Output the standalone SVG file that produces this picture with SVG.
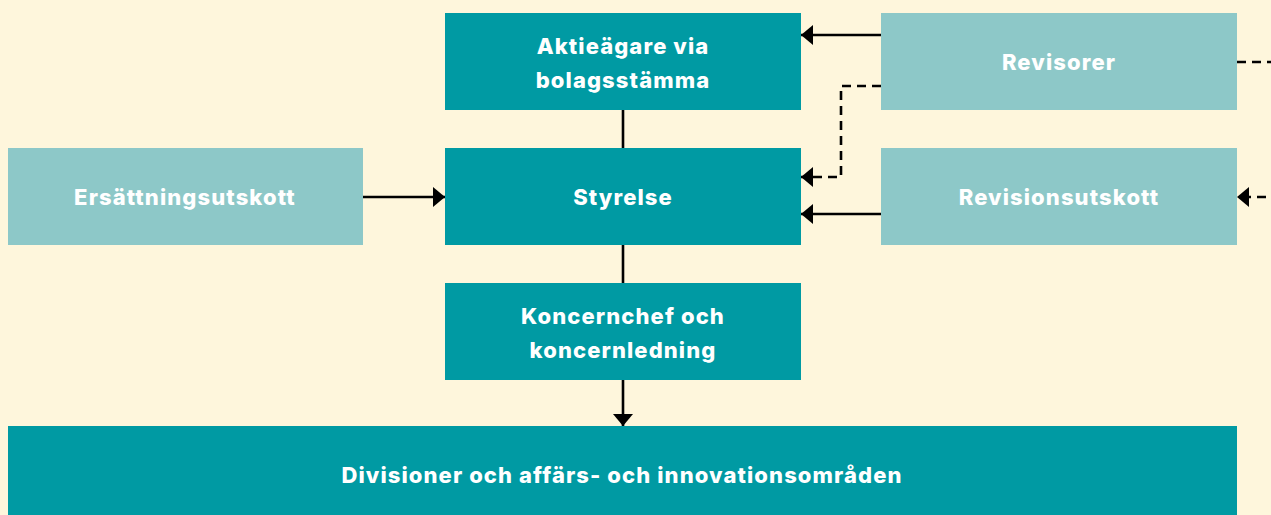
<svg xmlns="http://www.w3.org/2000/svg" width="1271" height="515" viewBox="0 0 1271 515">
<defs>
<style>
.dark{fill:#009aa3}
.light{fill:#8dc8c8}
.t{fill:#ffffff;font-family:Inter,"Open Sans",sans-serif;font-weight:800;font-size:22px;letter-spacing:1.1px;text-anchor:middle}
.c{stroke:#000;stroke-width:2.6;fill:none}
.d{stroke-dasharray:9,6}
</style>
<marker id="ah" viewBox="0 0 12 20" refX="12" refY="10" markerWidth="12" markerHeight="20" markerUnits="userSpaceOnUse" orient="auto">
<path d="M0,0 L12,10 L0,20 Z" fill="#000"/>
</marker>
</defs>
<rect width="1271" height="515" fill="#fef6dc"/>
<g id="connectors">
<line class="c" x1="623" y1="110" x2="623" y2="148"/>
<line class="c" x1="623" y1="245" x2="623" y2="283"/>
<line class="c" x1="623" y1="380" x2="623" y2="426" marker-end="url(#ah)"/>
<line class="c" x1="363" y1="197" x2="445" y2="197" marker-end="url(#ah)"/>
<line class="c" x1="881" y1="35" x2="801" y2="35" marker-end="url(#ah)"/>
<line class="c" x1="881" y1="214" x2="801" y2="214" marker-end="url(#ah)"/>
<polyline class="c d" points="881,86 841,86 841,177 801,177" marker-end="url(#ah)"/>
<line class="c d" x1="1237" y1="62" x2="1275" y2="62"/>
<line class="c d" x1="1281" y1="197" x2="1237" y2="197" marker-end="url(#ah)"/>
</g>
<g id="aktieagare">
<rect class="dark" x="445" y="13" width="356" height="97"/>
<text class="t" x="623" y="54">Aktieägare via</text>
<text class="t" x="623" y="88">bolagsstämma</text>
</g>
<g id="styrelse">
<rect class="dark" x="445" y="148" width="356" height="97"/>
<text class="t" x="623" y="205">Styrelse</text>
</g>
<g id="koncernchef">
<rect class="dark" x="445" y="283" width="356" height="97"/>
<text class="t" x="623" y="324">Koncernchef och</text>
<text class="t" x="623" y="358">koncernledning</text>
</g>
<g id="divisioner">
<rect class="dark" x="8" y="426" width="1229" height="95"/>
<text class="t" x="622" y="483">Divisioner och affärs- och innovationsområden</text>
</g>
<g id="ersattningsutskott">
<rect class="light" x="8" y="148" width="355" height="97"/>
<text class="t" x="185" y="205">Ersättningsutskott</text>
</g>
<g id="revisorer">
<rect class="light" x="881" y="13" width="356" height="97"/>
<text class="t" x="1059" y="70">Revisorer</text>
</g>
<g id="revisionsutskott">
<rect class="light" x="881" y="148" width="356" height="97"/>
<text class="t" x="1059" y="205">Revisionsutskott</text>
</g>
</svg>
